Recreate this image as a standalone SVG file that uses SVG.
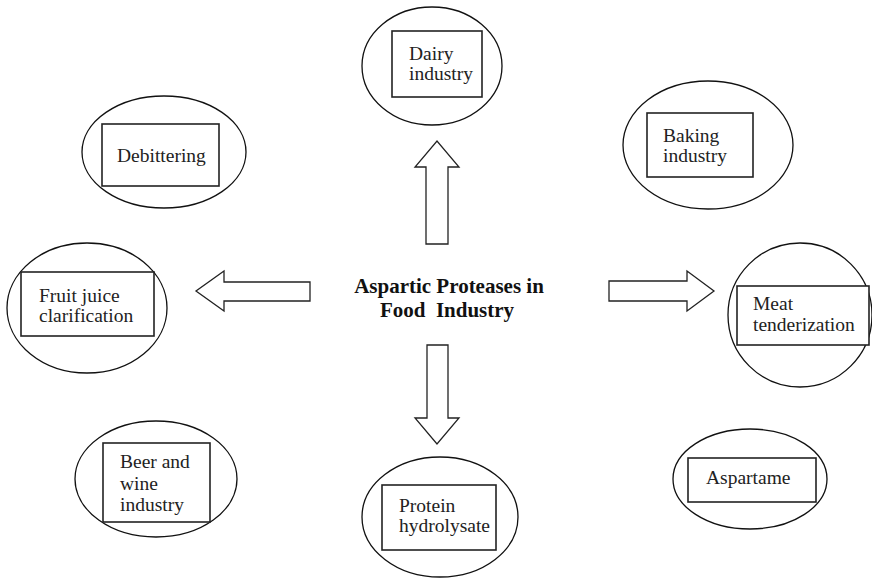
<svg xmlns="http://www.w3.org/2000/svg" width="872" height="579" viewBox="0 0 872 579">
  <style>
    .oval { fill: none; stroke: #111; stroke-width: 1.3; }
    .box { fill: #fff; stroke: #222; stroke-width: 1.6; }
    .lbl { font-family: "Liberation Serif", "Times New Roman", serif; font-size: 19.5px; fill: #222; }
    .title { font-family: "Liberation Serif", "Times New Roman", serif; font-size: 21px; font-weight: bold; fill: #111; white-space: pre; }
    .arrow { fill: #fff; stroke: #222; stroke-width: 1.3; stroke-linejoin: miter; }
  </style>
  <rect width="872" height="579" fill="#fff"/>

  <g id="center">
    <text class="title" x="449" y="293" text-anchor="middle">Aspartic Proteases in</text>
    <text class="title" x="447" y="317" text-anchor="middle" xml:space="preserve">Food  Industry</text>
  </g>

  <g id="connectors">
    <!-- up -->
    <polygon class="arrow" points="426,244 448,244 448,167 459,167 437,141 415,167 426,167"/>
    <!-- left -->
    <polygon class="arrow" points="310,282 310,301 224,301 224,311 196,291 224,271 224,282"/>
    <!-- right -->
    <polygon class="arrow" points="609,281 609,301 687,301 687,311 714,291 687,271 687,281"/>
    <!-- down -->
    <polygon class="arrow" points="427,345 448,345 448,418 459,418 437,444 415,418 427,418"/>
  </g>

  <g id="dairy">
    <ellipse class="oval" cx="432" cy="66" rx="70" ry="59"/>
    <rect class="box" x="392" y="31" width="90" height="66"/>
    <text class="lbl" x="409" y="60">Dairy</text>
    <text class="lbl" x="409" y="80">industry</text>
  </g>

  <g id="debittering">
    <ellipse class="oval" cx="164" cy="152" rx="82" ry="56"/>
    <rect class="box" x="102" y="124" width="117" height="62"/>
    <text class="lbl" x="117" y="162">Debittering</text>
  </g>

  <g id="baking">
    <ellipse class="oval" cx="708" cy="145" rx="85" ry="64"/>
    <rect class="box" x="647" y="113" width="106" height="64"/>
    <text class="lbl" x="663" y="142">Baking</text>
    <text class="lbl" x="663" y="162">industry</text>
  </g>

  <g id="fruit-juice">
    <ellipse class="oval" cx="87" cy="308" rx="80" ry="65"/>
    <rect class="box" x="21" y="272" width="133" height="64"/>
    <text class="lbl" x="39" y="302">Fruit juice</text>
    <text class="lbl" x="39" y="322">clarification</text>
  </g>

  <g id="meat">
    <ellipse class="oval" cx="800" cy="315" rx="72" ry="72"/>
    <rect class="box" x="737" y="286" width="132" height="59"/>
    <text class="lbl" x="753" y="310">Meat</text>
    <text class="lbl" x="753" y="331">tenderization</text>
  </g>

  <g id="beer-wine">
    <ellipse class="oval" cx="156" cy="479" rx="81" ry="58"/>
    <rect class="box" x="103" y="443" width="107" height="79"/>
    <text class="lbl" x="120" y="468">Beer and</text>
    <text class="lbl" x="120" y="490">wine</text>
    <text class="lbl" x="120" y="511">industry</text>
  </g>

  <g id="protein">
    <ellipse class="oval" cx="440" cy="517" rx="78" ry="60"/>
    <rect class="box" x="382" y="485" width="114" height="65"/>
    <text class="lbl" x="399" y="512">Protein</text>
    <text class="lbl" x="399" y="532">hydrolysate</text>
  </g>

  <g id="aspartame">
    <ellipse class="oval" cx="750" cy="479" rx="77" ry="50"/>
    <rect class="box" x="688" y="458" width="128" height="44"/>
    <text class="lbl" x="706" y="484">Aspartame</text>
  </g>
</svg>
